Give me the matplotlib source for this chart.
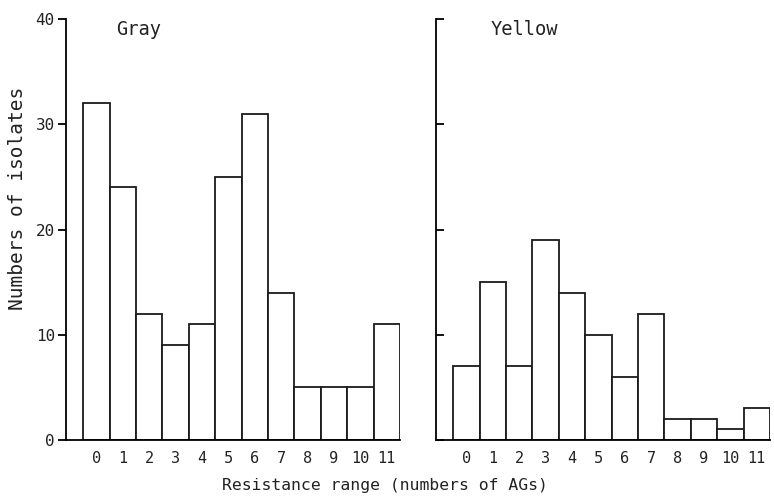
import matplotlib.pyplot as plt

# resistance range (numbers of AGs)
ranges = list(range(12))
tick_labels = [str(r) for r in ranges]

# numbers of isolates per range
gray = [32, 24, 12, 9, 11, 25, 31, 14, 5, 5, 5, 11]
yellow = [7, 15, 7, 19, 14, 10, 6, 12, 2, 2, 1, 3]

# typewriter-like look of the original figure
plt.rcParams['font.family'] = ['DejaVu Sans Mono']
fig = plt.figure(figsize=(7.74, 4.98), dpi=100)

ax1 = fig.add_axes([0.0853, 0.1165, 0.4315, 0.8453])
ax2 = fig.add_axes([0.5633, 0.1165, 0.4315, 0.8453])

lw = 1.3
txt = '#222222'
for ax, values, name, tdir in [(ax1, gray, 'Gray', 'out'), (ax2, yellow, 'Yellow', 'in')]:
    ax.bar(ranges, values, width=1.0, color='white', edgecolor='#1a1a1a', linewidth=lw)
    ax.set_xlim(-1.15, 11.5)
    ax.set_ylim(0, 40)
    ax.spines['top'].set_visible(False)
    ax.spines['right'].set_visible(False)
    ax.spines['left'].set_linewidth(lw)
    ax.spines['bottom'].set_linewidth(lw)
    ax.set_xticks(ranges)
    ax.set_xticklabels(tick_labels, fontsize=11, color=txt)
    ax.tick_params(axis='x', length=0, pad=8)
    ax.set_yticks([0, 10, 20, 30, 40])
    ax.tick_params(axis='y', direction=tdir, length=6, width=lw, pad=2,
                   labelsize=11.5, labelcolor=txt)
    ax.text(0.75 if name == 'Gray' else 0.9, 39, name, fontsize=13.5,
            va='center', ha='left', color=txt)

ax2.set_yticklabels([])

fig.text(0.023, 0.602, 'Numbers of isolates', rotation=90, fontsize=14,
         ha='center', va='center', color=txt)
fig.text(0.497, 0.026, 'Resistance range (numbers of AGs)', fontsize=11.8,
         ha='center', va='center', color=txt)

fig.savefig('out.png', dpi=100)
